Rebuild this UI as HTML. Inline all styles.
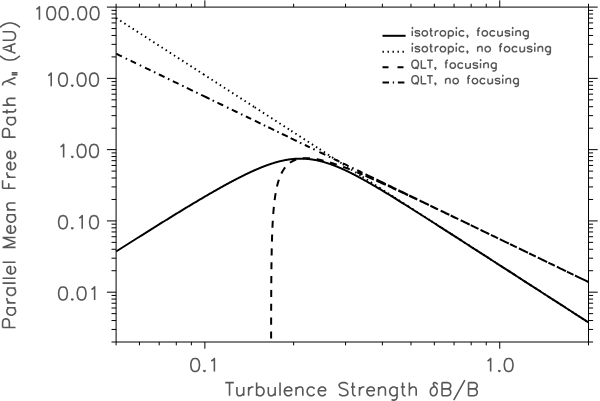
<!DOCTYPE html>
<html><head><meta charset="utf-8"><title>Parallel mean free path</title>
<style>html,body{margin:0;padding:0;background:#fff;width:600px;height:401px;overflow:hidden;font-family:"Liberation Sans",sans-serif;}svg{display:block;}</style>
</head><body>
<svg width="600" height="401" viewBox="0 0 600 401">
<rect width="600" height="401" fill="#fff"/>
<path d="M116.10 7.10L588.50 7.10M116.10 342.00L588.50 342.00M116.10 7.10L116.10 342.00M588.50 7.10L588.50 342.00M116.10 342.00L116.10 345.35M116.10 7.10L116.10 3.75M139.45 342.00L139.45 345.35M139.45 7.10L139.45 3.75M159.19 342.00L159.19 345.35M159.19 7.10L159.19 3.75M176.29 342.00L176.29 345.35M176.29 7.10L176.29 3.75M191.37 342.00L191.37 345.35M191.37 7.10L191.37 3.75M204.86 342.00L204.86 348.70M204.86 7.10L204.86 0.40M293.63 342.00L293.63 345.35M293.63 7.10L293.63 3.75M345.55 342.00L345.55 345.35M345.55 7.10L345.55 3.75M382.39 342.00L382.39 345.35M382.39 7.10L382.39 3.75M410.97 342.00L410.97 345.35M410.97 7.10L410.97 3.75M434.32 342.00L434.32 345.35M434.32 7.10L434.32 3.75M454.06 342.00L454.06 345.35M454.06 7.10L454.06 3.75M471.16 342.00L471.16 345.35M471.16 7.10L471.16 3.75M486.24 342.00L486.24 345.35M486.24 7.10L486.24 3.75M499.74 342.00L499.74 348.70M499.74 7.10L499.74 0.40M588.50 342.00L588.50 345.35M588.50 7.10L588.50 3.75M116.10 342.00L111.50 342.00M588.50 342.00L593.10 342.00M116.10 329.45L111.50 329.45M588.50 329.45L593.10 329.45M116.10 320.55L111.50 320.55M588.50 320.55L593.10 320.55M116.10 313.64L111.50 313.64M588.50 313.64L593.10 313.64M116.10 308.00L111.50 308.00M588.50 308.00L593.10 308.00M116.10 303.22L111.50 303.22M588.50 303.22L593.10 303.22M116.10 299.09L111.50 299.09M588.50 299.09L593.10 299.09M116.10 295.44L111.50 295.44M588.50 295.44L593.10 295.44M116.10 292.18L106.90 292.18M588.50 292.18L597.70 292.18M116.10 270.73L111.50 270.73M588.50 270.73L593.10 270.73M116.10 258.18L111.50 258.18M588.50 258.18L593.10 258.18M116.10 249.27L111.50 249.27M588.50 249.27L593.10 249.27M116.10 242.37L111.50 242.37M588.50 242.37L593.10 242.37M116.10 236.72L111.50 236.72M588.50 236.72L593.10 236.72M116.10 231.95L111.50 231.95M588.50 231.95L593.10 231.95M116.10 227.82L111.50 227.82M588.50 227.82L593.10 227.82M116.10 224.17L111.50 224.17M588.50 224.17L593.10 224.17M116.10 220.91L106.90 220.91M588.50 220.91L597.70 220.91M116.10 199.46L111.50 199.46M588.50 199.46L593.10 199.46M116.10 186.91L111.50 186.91M588.50 186.91L593.10 186.91M116.10 178.00L111.50 178.00M588.50 178.00L593.10 178.00M116.10 171.10L111.50 171.10M588.50 171.10L593.10 171.10M116.10 165.45L111.50 165.45M588.50 165.45L593.10 165.45M116.10 160.68L111.50 160.68M588.50 160.68L593.10 160.68M116.10 156.55L111.50 156.55M588.50 156.55L593.10 156.55M116.10 152.90L111.50 152.90M588.50 152.90L593.10 152.90M116.10 149.64L106.90 149.64M588.50 149.64L597.70 149.64M116.10 128.19L111.50 128.19M588.50 128.19L593.10 128.19M116.10 115.64L111.50 115.64M588.50 115.64L593.10 115.64M116.10 106.73L111.50 106.73M588.50 106.73L593.10 106.73M116.10 99.83L111.50 99.83M588.50 99.83L593.10 99.83M116.10 94.18L111.50 94.18M588.50 94.18L593.10 94.18M116.10 89.41L111.50 89.41M588.50 89.41L593.10 89.41M116.10 85.28L111.50 85.28M588.50 85.28L593.10 85.28M116.10 81.63L111.50 81.63M588.50 81.63L593.10 81.63M116.10 78.37L106.90 78.37M588.50 78.37L597.70 78.37M116.10 56.92L111.50 56.92M588.50 56.92L593.10 56.92M116.10 44.37L111.50 44.37M588.50 44.37L593.10 44.37M116.10 35.46L111.50 35.46M588.50 35.46L593.10 35.46M116.10 28.55L111.50 28.55M588.50 28.55L593.10 28.55M116.10 22.91L111.50 22.91M588.50 22.91L593.10 22.91M116.10 18.14L111.50 18.14M588.50 18.14L593.10 18.14M116.10 14.01L111.50 14.01M588.50 14.01L593.10 14.01M116.10 10.36L111.50 10.36M588.50 10.36L593.10 10.36M116.10 7.10L106.90 7.10M588.50 7.10L597.70 7.10" stroke="#000" stroke-width="1" fill="none"/>
<path d="M36.32 9.24 L37.56 8.62 L39.42 6.76 L39.42 19.78M50.58 6.76 L48.72 7.38 L47.48 9.24 L46.86 12.34 L46.86 14.20 L47.48 17.30 L48.72 19.16 L50.58 19.78 L51.82 19.78 L53.68 19.16 L54.92 17.30 L55.54 14.20 L55.54 12.34 L54.92 9.24 L53.68 7.38 L51.82 6.76 L50.58 6.76M62.98 6.76 L61.12 7.38 L59.88 9.24 L59.26 12.34 L59.26 14.20 L59.88 17.30 L61.12 19.16 L62.98 19.78 L64.22 19.78 L66.08 19.16 L67.32 17.30 L67.94 14.20 L67.94 12.34 L67.32 9.24 L66.08 7.38 L64.22 6.76 L62.98 6.76M72.90 18.54 L72.28 19.16 L72.90 19.78 L73.52 19.16 L72.90 18.54M81.58 6.76 L79.72 7.38 L78.48 9.24 L77.86 12.34 L77.86 14.20 L78.48 17.30 L79.72 19.16 L81.58 19.78 L82.82 19.78 L84.68 19.16 L85.92 17.30 L86.54 14.20 L86.54 12.34 L85.92 9.24 L84.68 7.38 L82.82 6.76 L81.58 6.76M93.98 6.76 L92.12 7.38 L90.88 9.24 L90.26 12.34 L90.26 14.20 L90.88 17.30 L92.12 19.16 L93.98 19.78 L95.22 19.78 L97.08 19.16 L98.32 17.30 L98.94 14.20 L98.94 12.34 L98.32 9.24 L97.08 7.38 L95.22 6.76 L93.98 6.76M48.12 75.61 L49.36 74.99 L51.22 73.13 L51.22 86.15M62.38 73.13 L60.52 73.75 L59.28 75.61 L58.66 78.71 L58.66 80.57 L59.28 83.67 L60.52 85.53 L62.38 86.15 L63.62 86.15 L65.48 85.53 L66.72 83.67 L67.34 80.57 L67.34 78.71 L66.72 75.61 L65.48 73.75 L63.62 73.13 L62.38 73.13M72.30 84.91 L71.68 85.53 L72.30 86.15 L72.92 85.53 L72.30 84.91M80.98 73.13 L79.12 73.75 L77.88 75.61 L77.26 78.71 L77.26 80.57 L77.88 83.67 L79.12 85.53 L80.98 86.15 L82.22 86.15 L84.08 85.53 L85.32 83.67 L85.94 80.57 L85.94 78.71 L85.32 75.61 L84.08 73.75 L82.22 73.13 L80.98 73.13M93.38 73.13 L91.52 73.75 L90.28 75.61 L89.66 78.71 L89.66 80.57 L90.28 83.67 L91.52 85.53 L93.38 86.15 L94.62 86.15 L96.48 85.53 L97.72 83.67 L98.34 80.57 L98.34 78.71 L97.72 75.61 L96.48 73.75 L94.62 73.13 L93.38 73.13M60.52 146.88 L61.76 146.26 L63.62 144.40 L63.62 157.42M72.30 156.18 L71.68 156.80 L72.30 157.42 L72.92 156.80 L72.30 156.18M80.98 144.40 L79.12 145.02 L77.88 146.88 L77.26 149.98 L77.26 151.84 L77.88 154.94 L79.12 156.80 L80.98 157.42 L82.22 157.42 L84.08 156.80 L85.32 154.94 L85.94 151.84 L85.94 149.98 L85.32 146.88 L84.08 145.02 L82.22 144.40 L80.98 144.40M93.38 144.40 L91.52 145.02 L90.28 146.88 L89.66 149.98 L89.66 151.84 L90.28 154.94 L91.52 156.80 L93.38 157.42 L94.62 157.42 L96.48 156.80 L97.72 154.94 L98.34 151.84 L98.34 149.98 L97.72 146.88 L96.48 145.02 L94.62 144.40 L93.38 144.40M62.38 215.67 L60.52 216.29 L59.28 218.15 L58.66 221.25 L58.66 223.11 L59.28 226.21 L60.52 228.07 L62.38 228.69 L63.62 228.69 L65.48 228.07 L66.72 226.21 L67.34 223.11 L67.34 221.25 L66.72 218.15 L65.48 216.29 L63.62 215.67 L62.38 215.67M72.30 227.45 L71.68 228.07 L72.30 228.69 L72.92 228.07 L72.30 227.45M79.12 218.15 L80.36 217.53 L82.22 215.67 L82.22 228.69M93.38 215.67 L91.52 216.29 L90.28 218.15 L89.66 221.25 L89.66 223.11 L90.28 226.21 L91.52 228.07 L93.38 228.69 L94.62 228.69 L96.48 228.07 L97.72 226.21 L98.34 223.11 L98.34 221.25 L97.72 218.15 L96.48 216.29 L94.62 215.67 L93.38 215.67M62.38 286.94 L60.52 287.56 L59.28 289.42 L58.66 292.52 L58.66 294.38 L59.28 297.48 L60.52 299.34 L62.38 299.96 L63.62 299.96 L65.48 299.34 L66.72 297.48 L67.34 294.38 L67.34 292.52 L66.72 289.42 L65.48 287.56 L63.62 286.94 L62.38 286.94M72.30 298.72 L71.68 299.34 L72.30 299.96 L72.92 299.34 L72.30 298.72M80.98 286.94 L79.12 287.56 L77.88 289.42 L77.26 292.52 L77.26 294.38 L77.88 297.48 L79.12 299.34 L80.98 299.96 L82.22 299.96 L84.08 299.34 L85.32 297.48 L85.94 294.38 L85.94 292.52 L85.32 289.42 L84.08 287.56 L82.22 286.94 L80.98 286.94M91.52 289.42 L92.76 288.80 L94.62 286.94 L94.62 299.96M194.54 358.46 L192.68 359.08 L191.44 360.94 L190.82 364.04 L190.82 365.90 L191.44 369.00 L192.68 370.86 L194.54 371.48 L195.78 371.48 L197.64 370.86 L198.88 369.00 L199.50 365.90 L199.50 364.04 L198.88 360.94 L197.64 359.08 L195.78 358.46 L194.54 358.46M204.46 370.24 L203.84 370.86 L204.46 371.48 L205.08 370.86 L204.46 370.24M211.28 360.94 L212.52 360.32 L214.38 358.46 L214.38 371.48M487.56 360.94 L488.80 360.32 L490.66 358.46 L490.66 371.48M499.34 370.24 L498.72 370.86 L499.34 371.48 L499.96 370.86 L499.34 370.24M508.02 358.46 L506.16 359.08 L504.92 360.94 L504.30 364.04 L504.30 365.90 L504.92 369.00 L506.16 370.86 L508.02 371.48 L509.26 371.48 L511.12 370.86 L512.36 369.00 L512.98 365.90 L512.98 364.04 L512.36 360.94 L511.12 359.08 L509.26 358.46 L508.02 358.46M229.53 382.59 L229.53 395.73M225.22 382.59 L233.84 382.59M236.92 386.97 L236.92 393.23 L237.54 395.11 L238.77 395.73 L240.62 395.73 L241.85 395.11 L243.70 393.23M243.70 386.97 L243.70 395.73M248.62 386.97 L248.62 395.73M248.62 390.73 L249.24 388.85 L250.47 387.60 L251.70 386.97 L253.55 386.97M256.63 382.59 L256.63 395.73M256.63 388.85 L257.86 387.60 L259.10 386.97 L260.94 386.97 L262.18 387.60 L263.41 388.85 L264.02 390.73 L264.02 391.98 L263.41 393.86 L262.18 395.11 L260.94 395.73 L259.10 395.73 L257.86 395.11 L256.63 393.86M268.34 386.97 L268.34 393.23 L268.95 395.11 L270.18 395.73 L272.03 395.73 L273.26 395.11 L275.11 393.23M275.11 386.97 L275.11 395.73M280.04 382.59 L280.04 395.73M284.35 390.73 L291.74 390.73 L291.74 389.47 L291.13 388.22 L290.51 387.60 L289.28 386.97 L287.43 386.97 L286.20 387.60 L284.97 388.85 L284.35 390.73 L284.35 391.98 L284.97 393.86 L286.20 395.11 L287.43 395.73 L289.28 395.73 L290.51 395.11 L291.74 393.86M296.06 386.97 L296.06 395.73M296.06 389.47 L297.90 387.60 L299.14 386.97 L300.98 386.97 L302.22 387.60 L302.83 389.47 L302.83 395.73M314.54 388.85 L313.30 387.60 L312.07 386.97 L310.22 386.97 L308.99 387.60 L307.76 388.85 L307.14 390.73 L307.14 391.98 L307.76 393.86 L308.99 395.11 L310.22 395.73 L312.07 395.73 L313.30 395.11 L314.54 393.86M318.23 390.73 L325.62 390.73 L325.62 389.47 L325.01 388.22 L324.39 387.60 L323.16 386.97 L321.31 386.97 L320.08 387.60 L318.85 388.85 L318.23 390.73 L318.23 391.98 L318.85 393.86 L320.08 395.11 L321.31 395.73 L323.16 395.73 L324.39 395.11 L325.62 393.86M347.80 384.47 L346.57 383.21 L344.72 382.59 L342.26 382.59 L340.41 383.21 L339.18 384.47 L339.18 385.72 L339.79 386.97 L340.41 387.60 L341.64 388.22 L345.34 389.47 L346.57 390.10 L347.18 390.73 L347.80 391.98 L347.80 393.86 L346.57 395.11 L344.72 395.73 L342.26 395.73 L340.41 395.11 L339.18 393.86M352.73 382.59 L352.73 393.23 L353.34 395.11 L354.58 395.73 L355.81 395.73M350.88 386.97 L355.19 386.97M359.50 386.97 L359.50 395.73M359.50 390.73 L360.12 388.85 L361.35 387.60 L362.58 386.97 L364.43 386.97M366.90 390.73 L374.29 390.73 L374.29 389.47 L373.67 388.22 L373.06 387.60 L371.82 386.97 L369.98 386.97 L368.74 387.60 L367.51 388.85 L366.90 390.73 L366.90 391.98 L367.51 393.86 L368.74 395.11 L369.98 395.73 L371.82 395.73 L373.06 395.11 L374.29 393.86M378.60 386.97 L378.60 395.73M378.60 389.47 L380.45 387.60 L381.68 386.97 L383.53 386.97 L384.76 387.60 L385.38 389.47 L385.38 395.73M397.08 386.97 L397.08 396.99 L396.46 398.86 L395.85 399.49 L394.62 400.12 L392.77 400.12 L391.54 399.49M397.08 388.85 L395.85 387.60 L394.62 386.97 L392.77 386.97 L391.54 387.60 L390.30 388.85 L389.69 390.73 L389.69 391.98 L390.30 393.86 L391.54 395.11 L392.77 395.73 L394.62 395.73 L395.85 395.11 L397.08 393.86M402.62 382.59 L402.62 393.23 L403.24 395.11 L404.47 395.73 L405.70 395.73M400.78 386.97 L405.09 386.97M409.40 382.59 L409.40 395.73M409.40 389.47 L411.25 387.60 L412.48 386.97 L414.33 386.97 L415.56 387.60 L416.18 389.47 L416.18 395.73M435.27 386.97 L433.42 386.97 L432.19 387.60 L430.96 388.85 L430.34 390.73 L430.34 392.60 L430.96 394.48 L431.58 395.11 L432.81 395.73 L434.04 395.73 L435.27 395.11 L436.50 393.86 L437.12 391.98 L437.12 390.10 L436.50 388.22 L435.27 386.97 L434.04 385.72 L433.42 384.47 L433.42 383.21 L434.04 382.59 L435.27 382.59 L436.50 383.21 L437.74 384.47M442.05 382.59 L442.05 395.73M442.05 382.59 L447.59 382.59 L449.44 383.21 L450.06 383.84 L450.67 385.09 L450.67 386.34 L450.06 387.60 L449.44 388.22 L447.59 388.85M442.05 388.85 L447.59 388.85 L449.44 389.47 L450.06 390.10 L450.67 391.35 L450.67 393.23 L450.06 394.48 L449.44 395.11 L447.59 395.73 L442.05 395.73M464.84 380.08 L453.75 400.12M468.54 382.59 L468.54 395.73M468.54 382.59 L474.08 382.59 L475.93 383.21 L476.54 383.84 L477.16 385.09 L477.16 386.34 L476.54 387.60 L475.93 388.22 L474.08 388.85M468.54 388.85 L474.08 388.85 L475.93 389.47 L476.54 390.10 L477.16 391.35 L477.16 393.23 L476.54 394.48 L475.93 395.11 L474.08 395.73 L468.54 395.73M2.59 327.50 L15.52 327.50M2.59 327.50 L2.59 321.95 L3.20 320.10 L3.82 319.49 L5.05 318.87 L6.90 318.87 L8.13 319.49 L8.75 320.10 L9.36 321.95 L9.36 327.50M6.90 307.78 L15.52 307.78M8.75 307.78 L7.52 309.02 L6.90 310.25 L6.90 312.10 L7.52 313.33 L8.75 314.56 L10.60 315.18 L11.83 315.18 L13.68 314.56 L14.91 313.33 L15.52 312.10 L15.52 310.25 L14.91 309.02 L13.68 307.78M6.90 302.86 L15.52 302.86M10.60 302.86 L8.75 302.24 L7.52 301.01 L6.90 299.78 L6.90 297.93M6.90 288.07 L15.52 288.07M8.75 288.07 L7.52 289.30 L6.90 290.54 L6.90 292.38 L7.52 293.62 L8.75 294.85 L10.60 295.46 L11.83 295.46 L13.68 294.85 L14.91 293.62 L15.52 292.38 L15.52 290.54 L14.91 289.30 L13.68 288.07M2.59 283.14 L15.52 283.14M2.59 278.22 L15.52 278.22M10.60 273.90 L10.60 266.51 L9.36 266.51 L8.13 267.13 L7.52 267.74 L6.90 268.98 L6.90 270.82 L7.52 272.06 L8.75 273.29 L10.60 273.90 L11.83 273.90 L13.68 273.29 L14.91 272.06 L15.52 270.82 L15.52 268.98 L14.91 267.74 L13.68 266.51M2.59 262.20 L15.52 262.20M2.59 247.42 L15.52 247.42M2.59 247.42 L15.52 242.49M2.59 237.56 L15.52 242.49M2.59 237.56 L15.52 237.56M10.60 233.25 L10.60 225.86 L9.36 225.86 L8.13 226.47 L7.52 227.09 L6.90 228.32 L6.90 230.17 L7.52 231.40 L8.75 232.63 L10.60 233.25 L11.83 233.25 L13.68 232.63 L14.91 231.40 L15.52 230.17 L15.52 228.32 L14.91 227.09 L13.68 225.86M6.90 214.77 L15.52 214.77M8.75 214.77 L7.52 216.00 L6.90 217.23 L6.90 219.08 L7.52 220.31 L8.75 221.54 L10.60 222.16 L11.83 222.16 L13.68 221.54 L14.91 220.31 L15.52 219.08 L15.52 217.23 L14.91 216.00 L13.68 214.77M6.90 209.84 L15.52 209.84M9.36 209.84 L7.52 207.99 L6.90 206.76 L6.90 204.91 L7.52 203.68 L9.36 203.06 L15.52 203.06M2.59 188.28 L15.52 188.28M2.59 188.28 L2.59 180.27M8.75 188.28 L8.75 183.35M6.90 177.19 L15.52 177.19M10.60 177.19 L8.75 176.58 L7.52 175.34 L6.90 174.11 L6.90 172.26M10.60 169.80 L10.60 162.41 L9.36 162.41 L8.13 163.02 L7.52 163.64 L6.90 164.87 L6.90 166.72 L7.52 167.95 L8.75 169.18 L10.60 169.80 L11.83 169.80 L13.68 169.18 L14.91 167.95 L15.52 166.72 L15.52 164.87 L14.91 163.64 L13.68 162.41M10.60 158.71 L10.60 151.32 L9.36 151.32 L8.13 151.94 L7.52 152.55 L6.90 153.78 L6.90 155.63 L7.52 156.86 L8.75 158.10 L10.60 158.71 L11.83 158.71 L13.68 158.10 L14.91 156.86 L15.52 155.63 L15.52 153.78 L14.91 152.55 L13.68 151.32M2.59 137.15 L15.52 137.15M2.59 137.15 L2.59 131.61 L3.20 129.76 L3.82 129.14 L5.05 128.53 L6.90 128.53 L8.13 129.14 L8.75 129.76 L9.36 131.61 L9.36 137.15M6.90 117.44 L15.52 117.44M8.75 117.44 L7.52 118.67 L6.90 119.90 L6.90 121.75 L7.52 122.98 L8.75 124.22 L10.60 124.83 L11.83 124.83 L13.68 124.22 L14.91 122.98 L15.52 121.75 L15.52 119.90 L14.91 118.67 L13.68 117.44M2.59 111.90 L13.06 111.90 L14.91 111.28 L15.52 110.05 L15.52 108.82M6.90 113.74 L6.90 109.43M2.59 105.12 L15.52 105.12M9.36 105.12 L7.52 103.27 L6.90 102.04 L6.90 100.19 L7.52 98.96 L9.36 98.34 L15.52 98.34M2.59 85.41 L2.59 84.18 L3.20 82.94 L3.82 82.33 L15.52 77.40M6.90 81.10 L15.52 84.79M0.12 55.72 L1.36 56.95 L3.20 58.18 L5.67 59.41 L8.75 60.03 L11.21 60.03 L14.29 59.41 L16.76 58.18 L18.60 56.95 L19.84 55.72M2.59 48.32 L15.52 53.25M2.59 48.32 L15.52 43.40M11.21 51.40 L11.21 45.24M2.59 40.32 L11.83 40.32 L13.68 39.70 L14.91 38.47 L15.52 36.62 L15.52 35.39 L14.91 33.54 L13.68 32.31 L11.83 31.69 L2.59 31.69M0.12 27.38 L1.36 26.15 L3.20 24.92 L5.67 23.68 L8.75 23.07 L11.21 23.07 L14.29 23.68 L16.76 24.92 L18.60 26.15 L19.84 27.38M11.7 72.8L17.5 72.8M11.7 74.6L17.5 74.6" stroke="#575757" stroke-width="1.6" fill="none" stroke-linecap="butt" stroke-linejoin="round"/>
<path d="M411.88 27.98 L412.29 28.37 L412.70 27.98 L412.29 27.60 L411.88 27.98M412.29 30.68 L412.29 36.06M419.69 31.83 L419.28 31.06 L418.05 30.68 L416.81 30.68 L415.58 31.06 L415.17 31.83 L415.58 32.60 L416.40 32.98 L418.46 33.37 L419.28 33.76 L419.69 34.52 L419.69 34.91 L419.28 35.68 L418.05 36.06 L416.81 36.06 L415.58 35.68 L415.17 34.91M424.21 30.68 L423.39 31.06 L422.57 31.83 L422.16 32.98 L422.16 33.76 L422.57 34.91 L423.39 35.68 L424.21 36.06 L425.45 36.06 L426.27 35.68 L427.09 34.91 L427.50 33.76 L427.50 32.98 L427.09 31.83 L426.27 31.06 L425.45 30.68 L424.21 30.68M430.79 27.98 L430.79 34.52 L431.20 35.68 L432.02 36.06 L432.84 36.06M429.56 30.68 L432.43 30.68M435.31 30.68 L435.31 36.06M435.31 32.98 L435.72 31.83 L436.54 31.06 L437.36 30.68 L438.60 30.68M442.30 30.68 L441.47 31.06 L440.65 31.83 L440.24 32.98 L440.24 33.76 L440.65 34.91 L441.47 35.68 L442.30 36.06 L443.53 36.06 L444.35 35.68 L445.17 34.91 L445.58 33.76 L445.58 32.98 L445.17 31.83 L444.35 31.06 L443.53 30.68 L442.30 30.68M448.46 30.68 L448.46 38.76M448.46 31.83 L449.28 31.06 L450.11 30.68 L451.34 30.68 L452.16 31.06 L452.98 31.83 L453.39 32.98 L453.39 33.76 L452.98 34.91 L452.16 35.68 L451.34 36.06 L450.11 36.06 L449.28 35.68 L448.46 34.91M455.86 27.98 L456.27 28.37 L456.68 27.98 L456.27 27.60 L455.86 27.98M456.27 30.68 L456.27 36.06M464.08 31.83 L463.26 31.06 L462.44 30.68 L461.20 30.68 L460.38 31.06 L459.56 31.83 L459.15 32.98 L459.15 33.76 L459.56 34.91 L460.38 35.68 L461.20 36.06 L462.44 36.06 L463.26 35.68 L464.08 34.91M467.78 35.68 L467.37 36.06 L466.96 35.68 L467.37 35.30 L467.78 35.68 L467.78 36.45 L467.37 37.22 L466.96 37.61M480.11 27.98 L479.29 27.98 L478.46 28.37 L478.05 29.52 L478.05 36.06M476.82 30.68 L479.70 30.68M484.22 30.68 L483.40 31.06 L482.57 31.83 L482.16 32.98 L482.16 33.76 L482.57 34.91 L483.40 35.68 L484.22 36.06 L485.45 36.06 L486.27 35.68 L487.10 34.91 L487.51 33.76 L487.51 32.98 L487.10 31.83 L486.27 31.06 L485.45 30.68 L484.22 30.68M494.90 31.83 L494.08 31.06 L493.26 30.68 L492.03 30.68 L491.21 31.06 L490.38 31.83 L489.97 32.98 L489.97 33.76 L490.38 34.91 L491.21 35.68 L492.03 36.06 L493.26 36.06 L494.08 35.68 L494.90 34.91M497.78 30.68 L497.78 34.52 L498.19 35.68 L499.01 36.06 L500.25 36.06 L501.07 35.68 L502.30 34.52M502.30 30.68 L502.30 36.06M509.70 31.83 L509.29 31.06 L508.06 30.68 L506.82 30.68 L505.59 31.06 L505.18 31.83 L505.59 32.60 L506.41 32.98 L508.47 33.37 L509.29 33.76 L509.70 34.52 L509.70 34.91 L509.29 35.68 L508.06 36.06 L506.82 36.06 L505.59 35.68 L505.18 34.91M512.17 27.98 L512.58 28.37 L512.99 27.98 L512.58 27.60 L512.17 27.98M512.58 30.68 L512.58 36.06M515.87 30.68 L515.87 36.06M515.87 32.22 L517.10 31.06 L517.92 30.68 L519.15 30.68 L519.98 31.06 L520.39 32.22 L520.39 36.06M528.20 30.68 L528.20 36.84 L527.78 37.99 L527.37 38.38 L526.55 38.76 L525.32 38.76 L524.50 38.38M528.20 31.83 L527.37 31.06 L526.55 30.68 L525.32 30.68 L524.50 31.06 L523.67 31.83 L523.26 32.98 L523.26 33.76 L523.67 34.91 L524.50 35.68 L525.32 36.06 L526.55 36.06 L527.37 35.68 L528.20 34.91M411.88 43.78 L412.29 44.16 L412.70 43.78 L412.29 43.39 L411.88 43.78M412.29 46.48 L412.29 51.86M419.69 47.63 L419.28 46.86 L418.05 46.48 L416.81 46.48 L415.58 46.86 L415.17 47.63 L415.58 48.40 L416.40 48.78 L418.46 49.17 L419.28 49.55 L419.69 50.32 L419.69 50.71 L419.28 51.48 L418.05 51.86 L416.81 51.86 L415.58 51.48 L415.17 50.71M424.21 46.48 L423.39 46.86 L422.57 47.63 L422.16 48.78 L422.16 49.55 L422.57 50.71 L423.39 51.48 L424.21 51.86 L425.45 51.86 L426.27 51.48 L427.09 50.71 L427.50 49.55 L427.50 48.78 L427.09 47.63 L426.27 46.86 L425.45 46.48 L424.21 46.48M430.79 43.78 L430.79 50.32 L431.20 51.48 L432.02 51.86 L432.84 51.86M429.56 46.48 L432.43 46.48M435.31 46.48 L435.31 51.86M435.31 48.78 L435.72 47.63 L436.54 46.86 L437.36 46.48 L438.60 46.48M442.30 46.48 L441.47 46.86 L440.65 47.63 L440.24 48.78 L440.24 49.55 L440.65 50.71 L441.47 51.48 L442.30 51.86 L443.53 51.86 L444.35 51.48 L445.17 50.71 L445.58 49.55 L445.58 48.78 L445.17 47.63 L444.35 46.86 L443.53 46.48 L442.30 46.48M448.46 46.48 L448.46 54.56M448.46 47.63 L449.28 46.86 L450.11 46.48 L451.34 46.48 L452.16 46.86 L452.98 47.63 L453.39 48.78 L453.39 49.55 L452.98 50.71 L452.16 51.48 L451.34 51.86 L450.11 51.86 L449.28 51.48 L448.46 50.71M455.86 43.78 L456.27 44.16 L456.68 43.78 L456.27 43.39 L455.86 43.78M456.27 46.48 L456.27 51.86M464.08 47.63 L463.26 46.86 L462.44 46.48 L461.20 46.48 L460.38 46.86 L459.56 47.63 L459.15 48.78 L459.15 49.55 L459.56 50.71 L460.38 51.48 L461.20 51.86 L462.44 51.86 L463.26 51.48 L464.08 50.71M467.78 51.48 L467.37 51.86 L466.96 51.48 L467.37 51.09 L467.78 51.48 L467.78 52.25 L467.37 53.02 L466.96 53.41M477.64 46.48 L477.64 51.86M477.64 48.02 L478.88 46.86 L479.70 46.48 L480.93 46.48 L481.75 46.86 L482.16 48.02 L482.16 51.86M487.10 46.48 L486.27 46.86 L485.45 47.63 L485.04 48.78 L485.04 49.55 L485.45 50.71 L486.27 51.48 L487.10 51.86 L488.33 51.86 L489.15 51.48 L489.97 50.71 L490.38 49.55 L490.38 48.78 L489.97 47.63 L489.15 46.86 L488.33 46.48 L487.10 46.48M502.30 43.78 L501.48 43.78 L500.66 44.16 L500.25 45.32 L500.25 51.86M499.01 46.48 L501.89 46.48M506.41 46.48 L505.59 46.86 L504.77 47.63 L504.36 48.78 L504.36 49.55 L504.77 50.71 L505.59 51.48 L506.41 51.86 L507.65 51.86 L508.47 51.48 L509.29 50.71 L509.70 49.55 L509.70 48.78 L509.29 47.63 L508.47 46.86 L507.65 46.48 L506.41 46.48M517.10 47.63 L516.28 46.86 L515.45 46.48 L514.22 46.48 L513.40 46.86 L512.58 47.63 L512.17 48.78 L512.17 49.55 L512.58 50.71 L513.40 51.48 L514.22 51.86 L515.45 51.86 L516.28 51.48 L517.10 50.71M519.98 46.48 L519.98 50.32 L520.39 51.48 L521.21 51.86 L522.44 51.86 L523.26 51.48 L524.50 50.32M524.50 46.48 L524.50 51.86M531.89 47.63 L531.48 46.86 L530.25 46.48 L529.02 46.48 L527.78 46.86 L527.37 47.63 L527.78 48.40 L528.61 48.78 L530.66 49.17 L531.48 49.55 L531.89 50.32 L531.89 50.71 L531.48 51.48 L530.25 51.86 L529.02 51.86 L527.78 51.48 L527.37 50.71M534.36 43.78 L534.77 44.16 L535.18 43.78 L534.77 43.39 L534.36 43.78M534.77 46.48 L534.77 51.86M538.06 46.48 L538.06 51.86M538.06 48.02 L539.29 46.86 L540.12 46.48 L541.35 46.48 L542.17 46.86 L542.58 48.02 L542.58 51.86M550.39 46.48 L550.39 52.63 L549.98 53.79 L549.57 54.17 L548.75 54.56 L547.51 54.56 L546.69 54.17M550.39 47.63 L549.57 46.86 L548.75 46.48 L547.51 46.48 L546.69 46.86 L545.87 47.63 L545.46 48.78 L545.46 49.55 L545.87 50.71 L546.69 51.48 L547.51 51.86 L548.75 51.86 L549.57 51.48 L550.39 50.71M414.35 60.18 L413.53 60.56 L412.70 61.33 L412.29 62.10 L411.88 63.26 L411.88 65.19 L412.29 66.34 L412.70 67.11 L413.53 67.88 L414.35 68.27 L415.99 68.27 L416.81 67.88 L417.64 67.11 L418.05 66.34 L418.46 65.19 L418.46 63.26 L418.05 62.10 L417.64 61.33 L416.81 60.56 L415.99 60.18 L414.35 60.18M415.58 66.72 L418.05 69.03M421.34 60.18 L421.34 68.27M421.34 68.27 L426.27 68.27M429.97 60.18 L429.97 68.27M427.09 60.18 L432.84 60.18M435.72 67.88 L435.31 68.27 L434.90 67.88 L435.31 67.50 L435.72 67.88 L435.72 68.65 L435.31 69.42 L434.90 69.80M448.05 60.18 L447.23 60.18 L446.41 60.56 L446.00 61.72 L446.00 68.27M444.76 62.88 L447.64 62.88M452.16 62.88 L451.34 63.26 L450.52 64.03 L450.11 65.19 L450.11 65.95 L450.52 67.11 L451.34 67.88 L452.16 68.27 L453.39 68.27 L454.22 67.88 L455.04 67.11 L455.45 65.95 L455.45 65.19 L455.04 64.03 L454.22 63.26 L453.39 62.88 L452.16 62.88M462.85 64.03 L462.02 63.26 L461.20 62.88 L459.97 62.88 L459.15 63.26 L458.33 64.03 L457.91 65.19 L457.91 65.95 L458.33 67.11 L459.15 67.88 L459.97 68.27 L461.20 68.27 L462.02 67.88 L462.85 67.11M465.72 62.88 L465.72 66.72 L466.13 67.88 L466.96 68.27 L468.19 68.27 L469.01 67.88 L470.25 66.72M470.25 62.88 L470.25 68.27M477.64 64.03 L477.23 63.26 L476.00 62.88 L474.77 62.88 L473.53 63.26 L473.12 64.03 L473.53 64.80 L474.35 65.19 L476.41 65.57 L477.23 65.95 L477.64 66.72 L477.64 67.11 L477.23 67.88 L476.00 68.27 L474.77 68.27 L473.53 67.88 L473.12 67.11M480.11 60.18 L480.52 60.56 L480.93 60.18 L480.52 59.79 L480.11 60.18M480.52 62.88 L480.52 68.27M483.81 62.88 L483.81 68.27M483.81 64.41 L485.04 63.26 L485.86 62.88 L487.10 62.88 L487.92 63.26 L488.33 64.41 L488.33 68.27M496.14 62.88 L496.14 69.03 L495.73 70.19 L495.32 70.58 L494.49 70.96 L493.26 70.96 L492.44 70.58M496.14 64.03 L495.32 63.26 L494.49 62.88 L493.26 62.88 L492.44 63.26 L491.62 64.03 L491.21 65.19 L491.21 65.95 L491.62 67.11 L492.44 67.88 L493.26 68.27 L494.49 68.27 L495.32 67.88 L496.14 67.11M414.35 75.68 L413.53 76.06 L412.70 76.83 L412.29 77.60 L411.88 78.76 L411.88 80.69 L412.29 81.84 L412.70 82.61 L413.53 83.38 L414.35 83.77 L415.99 83.77 L416.81 83.38 L417.64 82.61 L418.05 81.84 L418.46 80.69 L418.46 78.76 L418.05 77.60 L417.64 76.83 L416.81 76.06 L415.99 75.68 L414.35 75.68M415.58 82.22 L418.05 84.53M421.34 75.68 L421.34 83.77M421.34 83.77 L426.27 83.77M429.97 75.68 L429.97 83.77M427.09 75.68 L432.84 75.68M435.72 83.38 L435.31 83.77 L434.90 83.38 L435.31 83.00 L435.72 83.38 L435.72 84.15 L435.31 84.92 L434.90 85.30M445.58 78.38 L445.58 83.77M445.58 79.91 L446.82 78.76 L447.64 78.38 L448.87 78.38 L449.69 78.76 L450.11 79.91 L450.11 83.77M455.04 78.38 L454.22 78.76 L453.39 79.53 L452.98 80.69 L452.98 81.45 L453.39 82.61 L454.22 83.38 L455.04 83.77 L456.27 83.77 L457.09 83.38 L457.91 82.61 L458.33 81.45 L458.33 80.69 L457.91 79.53 L457.09 78.76 L456.27 78.38 L455.04 78.38M470.25 75.68 L469.42 75.68 L468.60 76.06 L468.19 77.22 L468.19 83.77M466.96 78.38 L469.83 78.38M474.35 78.38 L473.53 78.76 L472.71 79.53 L472.30 80.69 L472.30 81.45 L472.71 82.61 L473.53 83.38 L474.35 83.77 L475.59 83.77 L476.41 83.38 L477.23 82.61 L477.64 81.45 L477.64 80.69 L477.23 79.53 L476.41 78.76 L475.59 78.38 L474.35 78.38M485.04 79.53 L484.22 78.76 L483.40 78.38 L482.16 78.38 L481.34 78.76 L480.52 79.53 L480.11 80.69 L480.11 81.45 L480.52 82.61 L481.34 83.38 L482.16 83.77 L483.40 83.77 L484.22 83.38 L485.04 82.61M487.92 78.38 L487.92 82.22 L488.33 83.38 L489.15 83.77 L490.38 83.77 L491.21 83.38 L492.44 82.22M492.44 78.38 L492.44 83.77M499.84 79.53 L499.43 78.76 L498.19 78.38 L496.96 78.38 L495.73 78.76 L495.32 79.53 L495.73 80.30 L496.55 80.69 L498.60 81.07 L499.43 81.45 L499.84 82.22 L499.84 82.61 L499.43 83.38 L498.19 83.77 L496.96 83.77 L495.73 83.38 L495.32 82.61M502.30 75.68 L502.71 76.06 L503.12 75.68 L502.71 75.30 L502.30 75.68M502.71 78.38 L502.71 83.77M506.00 78.38 L506.00 83.77M506.00 79.91 L507.23 78.76 L508.06 78.38 L509.29 78.38 L510.11 78.76 L510.52 79.91 L510.52 83.77M518.33 78.38 L518.33 84.53 L517.92 85.69 L517.51 86.08 L516.69 86.46 L515.45 86.46 L514.63 86.08M518.33 79.53 L517.51 78.76 L516.69 78.38 L515.45 78.38 L514.63 78.76 L513.81 79.53 L513.40 80.69 L513.40 81.45 L513.81 82.61 L514.63 83.38 L515.45 83.77 L516.69 83.77 L517.51 83.38 L518.33 82.61" stroke="#575757" stroke-width="1.45" fill="none" stroke-linecap="butt" stroke-linejoin="round"/>
<path d="M116.10 17.96L117.36 18.78M120.23 20.63L121.49 21.44M124.36 23.29L125.62 24.10M128.49 25.95L129.75 26.76M132.62 28.61L133.88 29.42M136.75 31.27L138.01 32.09M140.88 33.94L142.14 34.75M145.01 36.60L146.27 37.41M149.14 39.26L150.40 40.07M153.27 41.92L154.53 42.73M157.40 44.58L158.66 45.40M161.53 47.25L162.79 48.06M165.66 49.91L166.92 50.72M169.79 52.57L171.05 53.38M173.92 55.23L175.18 56.04M178.05 57.89L179.31 58.71M182.18 60.55L183.44 61.37M186.31 63.22L187.57 64.03M190.44 65.88L191.70 66.69M194.57 68.54L195.83 69.35M198.70 71.20L199.96 72.02M202.83 73.86L203.25 74.14M203.25 74.14L204.51 74.95M207.38 76.80L208.64 77.61M211.51 79.46L212.77 80.27M215.64 82.12L216.90 82.94M219.77 84.79L221.03 85.60M223.90 87.45L225.16 88.26M228.03 90.11L229.29 90.92M232.16 92.77L233.42 93.58M236.29 95.43L237.55 96.25M240.42 98.10L241.68 98.91M244.55 100.76L245.81 101.57M248.68 103.42L249.94 104.23M252.81 106.08L254.07 106.89M254.64 107.26L255.90 108.07M258.77 109.92L260.03 110.73M262.90 112.58L264.16 113.39M267.03 115.24L268.29 116.05M271.16 117.90L272.42 118.72M275.29 120.57L276.55 121.38M279.42 123.23L280.68 124.04M283.55 125.89L284.81 126.70M287.68 128.55L288.94 129.36M291.21 130.83L292.47 131.64M295.34 133.49L296.60 134.30M299.47 136.15L300.73 136.96M303.60 138.81L304.86 139.62M307.73 141.47L308.99 142.29M311.86 144.14L313.12 144.95M315.99 146.80L317.25 147.61M319.62 149.14L320.88 149.95M323.75 151.80L325.01 152.61M327.88 154.46L329.14 155.28M332.01 157.13L333.27 157.94M336.14 159.79L337.40 160.60M340.27 162.45L341.53 163.26M342.86 164.12L344.12 164.93M346.99 166.78L348.25 167.59M351.12 169.44L352.38 170.25M355.25 172.10L356.51 172.92M359.38 174.77L360.64 175.58M362.52 176.79L363.78 177.60M366.65 179.45L367.91 180.27M370.78 182.12L372.04 182.93M374.91 184.78L376.17 185.59M379.04 187.44L379.56 187.78M379.56 187.78L380.82 188.59M383.69 190.44L384.95 191.25M387.82 193.10L389.08 193.91M391.95 195.76L393.21 196.57M394.60 197.47L395.86 198.28M398.73 200.13L399.99 200.94M402.86 202.79L404.12 203.60M406.99 205.45L408.06 206.14M408.06 206.14L409.32 206.95M412.19 208.80L413.45 209.62M416.32 211.47L417.58 212.28M420.23 213.99L421.49 214.80M424.36 216.65L425.62 217.46M428.49 219.31L429.75 220.13M431.35 221.15L432.61 221.97M435.48 223.82L436.74 224.63M439.61 226.48L440.87 227.29M441.58 227.75L442.84 228.56M445.71 230.41L446.97 231.22M449.84 233.07L451.05 233.85M451.05 233.85L452.31 234.67M455.18 236.52L456.44 237.33M459.31 239.18L459.87 239.54M459.87 239.54L461.13 240.35M464.00 242.20L465.26 243.01M468.12 244.86L469.38 245.67M472.25 247.52L473.51 248.33M475.87 249.85L477.13 250.66M480.00 252.51L481.26 253.33M483.18 254.56L484.44 255.38M487.31 257.23L488.57 258.04M490.10 259.02L491.36 259.83M494.23 261.68L495.49 262.49M496.66 263.25L497.92 264.06M500.79 265.91L502.05 266.72M502.90 267.27L504.16 268.08M507.03 269.93L508.29 270.74M508.85 271.11L510.11 271.92M512.98 273.77L514.24 274.58M514.53 274.77L515.79 275.58M518.66 277.43L519.92 278.24M519.98 278.28L521.24 279.09M524.11 280.94L525.20 281.65M525.20 281.65L526.46 282.46M529.33 284.31L530.22 284.88M530.22 284.88L531.48 285.69M534.35 287.54L535.05 287.99M535.05 287.99L536.31 288.80M539.18 290.65L539.70 290.99M539.70 290.99L540.96 291.80M543.83 293.65L544.19 293.88M544.19 293.88L545.45 294.70M548.32 296.55L548.53 296.68M548.53 296.68L549.79 297.49M552.66 299.34L552.72 299.38M552.72 299.38L553.98 300.20M556.78 302.00L558.05 302.82M560.72 304.54L561.98 305.35M564.54 307.00L565.80 307.82M568.25 309.39L569.51 310.21M571.86 311.72L573.12 312.53M575.36 313.98L576.62 314.79M578.78 316.18L580.04 316.99M582.10 318.32L583.36 319.13M585.34 320.41L586.60 321.22" stroke="#000" stroke-width="1.9" fill="none"/>
<path d="M116.25 53.76 L118.12 54.66 L119.98 55.56 L121.85 56.47M125.68 58.32 L126.16 58.55 L126.64 58.78 L127.12 59.01M130.65 60.72 L132.42 61.57 L134.18 62.43 L135.95 63.28M139.78 65.13 L140.26 65.36 L140.74 65.60 L141.22 65.83M145.05 67.68 L146.88 68.57 L148.72 69.45 L150.55 70.34M153.98 72.00 L154.46 72.23 L154.94 72.46 L155.42 72.69M158.85 74.35 L160.75 75.27 L162.65 76.19 L164.55 77.11M167.98 78.76 L168.46 79.00 L168.94 79.23 L169.42 79.46M172.85 81.12 L174.75 82.04 L176.65 82.96 L178.55 83.87M182.18 85.63 L182.66 85.86 L183.14 86.09 L183.62 86.33M186.85 87.89 L188.85 88.85 L190.85 89.82 L192.85 90.79M196.18 92.40 L196.66 92.63 L197.14 92.86 L197.62 93.09M201.15 94.80 L203.95 96.15 L206.75 97.51 L209.55 98.86M212.58 100.32 L213.06 100.56 L213.54 100.79 L214.02 101.02M217.45 102.68 L219.35 103.60 L221.25 104.52 L223.15 105.43M226.98 107.29 L227.46 107.52 L227.94 107.75 L228.42 107.98M231.85 109.64 L233.75 110.56 L235.65 111.48 L237.55 112.40M240.98 114.05 L241.46 114.29 L241.94 114.52 L242.42 114.75M245.85 116.41 L247.62 117.26 L249.38 118.12 L251.15 118.97M254.85 120.76 L256.75 121.68 L258.65 122.60 L260.55 123.51M263.78 125.07 L264.26 125.31 L264.74 125.54 L265.22 125.77M268.25 127.24 L270.22 128.19 L272.18 129.14 L274.15 130.09M277.28 131.60 L277.76 131.83 L278.24 132.07 L278.72 132.30M281.85 133.81 L283.82 134.76 L285.78 135.71 L287.75 136.66M290.65 138.06 L292.68 139.05 L294.72 140.03 L296.75 141.01M299.98 142.57 L300.46 142.81 L300.94 143.04 L301.42 143.27M304.85 144.93 L306.52 145.73 L308.18 146.54 L309.85 147.35M313.28 149.00 L313.76 149.24 L314.24 149.47 L314.72 149.70" stroke="#000" stroke-width="2.0" fill="none"/>
<path d="M319.40 151.96 L319.48 152.00 L319.55 152.03 L319.62 152.07M319.62 152.07 L321.51 152.98 L323.40 153.90 L325.29 154.81M328.89 156.55 L329.37 156.78 L329.85 157.01 L330.33 157.25M333.72 158.88 L335.61 159.80 L337.50 160.71 L339.39 161.63M342.86 163.30 L344.75 164.22 L346.64 165.13 L348.53 166.04M352.13 167.78 L352.61 168.02 L353.09 168.25 L353.57 168.48" stroke="#000" stroke-width="2.0" fill="none"/>
<path d="M116.10 251.50 L116.49 251.25 L116.89 251.00 L117.28 250.74 L117.68 250.49 L118.07 250.24 L118.46 249.99 L118.86 249.74 L119.25 249.49 L119.65 249.24 L120.04 248.99 L120.43 248.74 L120.83 248.49 L121.22 248.24 L121.62 247.99 L122.01 247.74 L122.40 247.49 L122.80 247.24 L123.19 246.99 L123.59 246.74 L123.98 246.49 L124.37 246.24 L124.77 245.99 L125.16 245.74 L125.56 245.49 L125.95 245.24 L126.34 244.99 L126.74 244.74 L127.13 244.49 L127.53 244.24 L127.92 244.00 L128.31 243.75 L128.71 243.50 L129.10 243.25 L129.50 243.00 L129.89 242.75 L130.28 242.50 L130.68 242.25 L131.07 242.00 L131.47 241.75 L131.86 241.50 L132.25 241.25 L132.65 241.00 L133.04 240.75 L133.44 240.51 L133.83 240.26 L134.22 240.01 L134.62 239.76 L135.01 239.51 L135.41 239.26 L135.80 239.01 L136.19 238.76 L136.59 238.52 L136.98 238.27 L137.38 238.02 L137.77 237.77 L138.16 237.52 L138.56 237.27 L138.95 237.02 L139.35 236.78 L139.74 236.53 L140.13 236.28 L140.53 236.03 L140.92 235.78 L141.32 235.53 L141.71 235.29 L142.10 235.04 L142.50 234.79 L142.89 234.54 L143.29 234.30 L143.68 234.05 L144.07 233.80 L144.47 233.55 L144.86 233.30 L145.26 233.06 L145.65 232.81 L146.04 232.56 L146.44 232.31 L146.83 232.07 L147.23 231.82 L147.62 231.57 L148.01 231.32 L148.41 231.08 L148.80 230.83 L149.20 230.58 L149.59 230.34 L149.98 230.09 L150.38 229.84 L150.77 229.60 L151.17 229.35 L151.56 229.10 L151.95 228.86 L152.35 228.61 L152.74 228.36 L153.14 228.12 L153.53 227.87 L153.92 227.62 L154.32 227.38 L154.71 227.13 L155.11 226.89 L155.50 226.64 L155.89 226.39 L156.29 226.15 L156.68 225.90 L157.08 225.66 L157.47 225.41 L157.86 225.16 L158.26 224.92 L158.65 224.67 L159.05 224.43 L159.44 224.18 L159.83 223.94 L160.23 223.69 L160.62 223.45 L161.02 223.20 L161.41 222.96 L161.80 222.71 L162.20 222.47 L162.59 222.22 L162.99 221.98 L163.38 221.73 L163.77 221.49 L164.17 221.25 L164.56 221.00 L164.96 220.76 L165.35 220.51 L165.74 220.27 L166.14 220.02 L166.53 219.78 L166.93 219.54 L167.32 219.29 L167.71 219.05 L168.11 218.81 L168.50 218.56 L168.90 218.32 L169.29 218.08 L169.68 217.83 L170.08 217.59 L170.47 217.35 L170.87 217.10 L171.26 216.86 L171.65 216.62 L172.05 216.38 L172.44 216.13 L172.84 215.89 L173.23 215.65 L173.62 215.41 L174.02 215.16 L174.41 214.92 L174.81 214.68 L175.20 214.44 L175.59 214.20 L175.99 213.95 L176.38 213.71 L176.78 213.47 L177.17 213.23 L177.56 212.99 L177.96 212.75 L178.35 212.51 L178.75 212.27 L179.14 212.03 L179.53 211.78 L179.93 211.54 L180.32 211.30 L180.72 211.06 L181.11 210.82 L181.50 210.58 L181.90 210.34 L182.29 210.10 L182.69 209.86 L183.08 209.62 L183.47 209.39 L183.87 209.15 L184.26 208.91 L184.66 208.67 L185.05 208.43 L185.44 208.19 L185.84 207.95 L186.23 207.71 L186.63 207.47 L187.02 207.24 L187.41 207.00 L187.81 206.76 L188.20 206.52 L188.60 206.28 L188.99 206.05 L189.38 205.81 L189.78 205.57 L190.17 205.34 L190.57 205.10 L190.96 204.86 L191.35 204.63 L191.75 204.39 L192.14 204.15 L192.54 203.92 L192.93 203.68 L193.32 203.44 L193.72 203.21 L194.11 202.97 L194.51 202.74 L194.90 202.50 L195.29 202.27 L195.69 202.03 L196.08 201.80 L196.47 201.56 L196.87 201.33 L197.26 201.09 L197.66 200.86 L198.05 200.63 L198.44 200.39 L198.84 200.16 L199.23 199.93 L199.63 199.69 L200.02 199.46 L200.41 199.23 L200.81 199.00 L201.20 198.76 L201.60 198.53 L201.99 198.30 L202.38 198.07 L202.78 197.84 L203.17 197.60 L203.57 197.37 L203.96 197.14 L204.35 196.91 L204.75 196.68 L205.14 196.45 L205.54 196.22 L205.93 195.99 L206.32 195.76 L206.72 195.53 L207.11 195.30 L207.51 195.07 L207.90 194.84 L208.29 194.62 L208.69 194.39 L209.08 194.16 L209.48 193.93 L209.87 193.70 L210.26 193.48 L210.66 193.25 L211.05 193.02 L211.45 192.79 L211.84 192.57 L212.23 192.34 L212.63 192.12 L213.02 191.89 L213.42 191.67 L213.81 191.44 L214.20 191.22 L214.60 190.99 L214.99 190.77 L215.39 190.54 L215.78 190.32 L216.17 190.09 L216.57 189.87 L216.96 189.65 L217.36 189.43 L217.75 189.20 L218.14 188.98 L218.54 188.76 L218.93 188.54 L219.33 188.32 L219.72 188.10 L220.11 187.88 L220.51 187.66 L220.90 187.44 L221.30 187.22 L221.69 187.00 L222.08 186.78 L222.48 186.56 L222.87 186.34 L223.27 186.12 L223.66 185.90 L224.05 185.69 L224.45 185.47 L224.84 185.25 L225.24 185.04 L225.63 184.82 L226.02 184.61 L226.42 184.39 L226.81 184.18 L227.21 183.96 L227.60 183.75 L227.99 183.53 L228.39 183.32 L228.78 183.11 L229.18 182.89 L229.57 182.68 L229.96 182.47 L230.36 182.26 L230.75 182.05 L231.15 181.84 L231.54 181.63 L231.93 181.42 L232.33 181.21 L232.72 181.00 L233.12 180.79 L233.51 180.58 L233.90 180.38 L234.30 180.17 L234.69 179.96 L235.09 179.76 L235.48 179.55 L235.87 179.35 L236.27 179.14 L236.66 178.94 L237.06 178.73 L237.45 178.53 L237.84 178.33 L238.24 178.13 L238.63 177.92 L239.03 177.72 L239.42 177.52 L239.81 177.32 L240.21 177.12 L240.60 176.92 L241.00 176.73 L241.39 176.53 L241.78 176.33 L242.18 176.13 L242.57 175.94 L242.97 175.74 L243.36 175.55 L243.75 175.35 L244.15 175.16 L244.54 174.96 L244.94 174.77 L245.33 174.58 L245.72 174.39 L246.12 174.20 L246.51 174.01 L246.91 173.82 L247.30 173.63 L247.69 173.44 L248.09 173.25 L248.48 173.07 L248.88 172.88 L249.27 172.70 L249.66 172.51 L250.06 172.33 L250.45 172.15 L250.85 171.96 L251.24 171.78 L251.63 171.60 L252.03 171.42 L252.42 171.24 L252.82 171.06 L253.21 170.88 L253.60 170.71 L254.00 170.53 L254.39 170.36 L254.79 170.18 L255.18 170.01 L255.57 169.83 L255.97 169.66 L256.36 169.49 L256.76 169.32 L257.15 169.15 L257.54 168.98 L257.94 168.82 L258.33 168.65 L258.73 168.48 L259.12 168.32 L259.51 168.16 L259.91 167.99 L260.30 167.83 L260.70 167.67 L261.09 167.51 L261.48 167.35 L261.88 167.19 L262.27 167.04 L262.67 166.88 L263.06 166.73 L263.45 166.57 L263.85 166.42 L264.24 166.27 L264.64 166.12 L265.03 165.97 L265.42 165.82 L265.82 165.67 L266.21 165.53 L266.61 165.38 L267.00 165.24 L267.39 165.10 L267.79 164.96 L268.18 164.82 L268.58 164.68 L268.97 164.54 L269.36 164.40 L269.76 164.27 L270.15 164.13 L270.55 164.00 L270.94 163.87 L271.33 163.74 L271.73 163.61 L272.12 163.49 L272.52 163.36 L272.91 163.24 L273.30 163.11 L273.70 162.99 L274.09 162.87 L274.49 162.75 L274.88 162.64 L275.27 162.52 L275.67 162.41 L276.06 162.29 L276.46 162.18 L276.85 162.07 L277.24 161.96 L277.64 161.86 L278.03 161.75 L278.43 161.65 L278.82 161.54 L279.21 161.44 L279.61 161.34 L280.00 161.25 L280.40 161.15 L280.79 161.06 L281.18 160.96 L281.58 160.87 L281.97 160.78 L282.37 160.69 L282.76 160.61 L283.15 160.52 L283.55 160.44 L283.94 160.36 L284.34 160.28 L284.73 160.20 L285.12 160.13 L285.52 160.05 L285.91 159.98 L286.31 159.91 L286.70 159.84 L287.09 159.78 L287.49 159.71 L287.88 159.65 L288.28 159.59 L288.67 159.53 L289.06 159.47 L289.46 159.41 L289.85 159.36 L290.25 159.31 L290.64 159.26 L291.03 159.21 L291.43 159.16 L291.82 159.12 L292.22 159.07 L292.61 159.03 L293.00 158.99 L293.40 158.96 L293.79 158.92 L294.19 158.89 L294.58 158.86 L294.97 158.83 L295.37 158.80 L295.76 158.78 L296.16 158.75 L296.55 158.73 L296.94 158.71 L297.34 158.70 L297.73 158.68 L298.13 158.67 L298.52 158.65 L298.91 158.65 L299.31 158.64 L299.70 158.63 L300.10 158.63 L300.49 158.63 L300.88 158.63 L301.28 158.63 L301.67 158.64 L302.07 158.64 L302.46 158.65 L302.85 158.66 L303.25 158.67 L303.64 158.69 L304.04 158.71 L304.43 158.72 L304.82 158.75 L305.22 158.77 L305.61 158.79 L306.01 158.82 L306.40 158.85 L306.79 158.88 L307.19 158.91 L307.58 158.95 L307.98 158.98 L308.37 159.02 L308.76 159.06 L309.16 159.11 L309.55 159.15 L309.95 159.20 L310.34 159.25 L310.73 159.30 L311.13 159.35 L311.52 159.40 L311.92 159.46 L312.31 159.52 L312.70 159.58 L313.10 159.64 L313.49 159.70 L313.89 159.77 L314.28 159.84 L314.67 159.91 L315.07 159.98 L315.46 160.05 L315.86 160.13 L316.25 160.21 L316.64 160.28 L317.04 160.37 L317.43 160.45 L317.83 160.53 L318.22 160.62 L318.61 160.71 L319.01 160.80 L319.40 160.89 L319.80 160.98 L320.19 161.08 L320.58 161.18 L320.98 161.28 L321.37 161.38 L321.77 161.48 L322.16 161.58 L322.55 161.69 L322.95 161.80 L323.34 161.90 L323.74 162.02 L324.13 162.13 L324.52 162.24 L324.92 162.36 L325.31 162.48 L325.71 162.59 L326.10 162.72 L326.49 162.84 L326.89 162.96 L327.28 163.09 L327.68 163.21 L328.07 163.34 L328.46 163.47 L328.86 163.60 L329.25 163.74 L329.65 163.87 L330.04 164.01 L330.43 164.15 L330.83 164.28 L331.22 164.42 L331.62 164.57 L332.01 164.71 L332.40 164.85 L332.80 165.00 L333.19 165.15 L333.59 165.30 L333.98 165.45 L334.37 165.60 L334.77 165.75 L335.16 165.90 L335.56 166.06 L335.95 166.22 L336.34 166.37 L336.74 166.53 L337.13 166.69 L337.53 166.86 L337.92 167.02 L338.31 167.18 L338.71 167.35 L339.10 167.52 L339.50 167.68 L339.89 167.85 L340.28 168.02 L340.68 168.19 L341.07 168.37 L341.47 168.54 L341.86 168.71 L342.25 168.89 L342.65 169.07 L343.04 169.24 L343.44 169.42 L343.83 169.60 L344.22 169.78 L344.62 169.96 L345.01 170.15 L345.41 170.33 L345.80 170.52 L346.19 170.70 L346.59 170.89 L346.98 171.08 L347.38 171.26 L347.77 171.45 L348.16 171.64 L348.56 171.84 L348.95 172.03 L349.35 172.22 L349.74 172.42 L350.13 172.61 L350.53 172.81 L350.92 173.00 L351.32 173.20 L351.71 173.40 L352.10 173.60 L352.50 173.80 L352.89 174.00 L353.28 174.20 L353.68 174.40 L354.07 174.60 L354.47 174.81 L354.86 175.01 L355.25 175.22 L355.65 175.42 L356.04 175.63 L356.44 175.84 L356.83 176.04 L357.22 176.25 L357.62 176.46 L358.01 176.67 L358.41 176.88 L358.80 177.09 L359.19 177.31 L359.59 177.52 L359.98 177.73 L360.38 177.95 L360.77 178.16 L361.16 178.38 L361.56 178.59 L361.95 178.81 L362.35 179.02 L362.74 179.24 L363.13 179.46 L363.53 179.68 L363.92 179.90 L364.32 180.11 L364.71 180.33 L365.10 180.56 L365.50 180.78 L365.89 181.00 L366.29 181.22 L366.68 181.44 L367.07 181.66 L367.47 181.89 L367.86 182.11 L368.26 182.34 L368.65 182.56 L369.04 182.79 L369.44 183.01 L369.83 183.24 L370.23 183.46 L370.62 183.69 L371.01 183.92 L371.41 184.15 L371.80 184.37 L372.20 184.60 L372.59 184.83 L372.98 185.06 L373.38 185.29 L373.77 185.52 L374.17 185.75 L374.56 185.98 L374.95 186.21 L375.35 186.45 L375.74 186.68 L376.14 186.91 L376.53 187.14 L376.92 187.38 L377.32 187.61 L377.71 187.84 L378.11 188.08 L378.50 188.31 L378.89 188.54 L379.29 188.78 L379.68 189.01 L380.08 189.25 L380.47 189.49 L380.86 189.72 L381.26 189.96 L381.65 190.19 L382.05 190.43 L382.44 190.67 L382.83 190.91 L383.23 191.14 L383.62 191.38 L384.02 191.62 L384.41 191.86 L384.80 192.10 L385.20 192.34 L385.59 192.57 L385.99 192.81 L386.38 193.05 L386.77 193.29 L387.17 193.53 L387.56 193.77 L387.96 194.01 L388.35 194.25 L388.74 194.50 L389.14 194.74 L389.53 194.98 L389.93 195.22 L390.32 195.46 L390.71 195.70 L391.11 195.94 L391.50 196.19 L391.90 196.43 L392.29 196.67 L392.68 196.91 L393.08 197.16 L393.47 197.40 L393.87 197.64 L394.26 197.89 L394.65 198.13 L395.05 198.38 L395.44 198.62 L395.84 198.86 L396.23 199.11 L396.62 199.35 L397.02 199.60 L397.41 199.84 L397.81 200.09 L398.20 200.33 L398.59 200.58 L398.99 200.82 L399.38 201.07 L399.78 201.31 L400.17 201.56 L400.56 201.80 L400.96 202.05 L401.35 202.30 L401.75 202.54 L402.14 202.79 L402.53 203.04 L402.93 203.28 L403.32 203.53 L403.72 203.78 L404.11 204.02 L404.50 204.27 L404.90 204.52 L405.29 204.76 L405.69 205.01 L406.08 205.26 L406.47 205.51 L406.87 205.75 L407.26 206.00 L407.66 206.25 L408.05 206.50 L408.44 206.75 L408.84 206.99 L409.23 207.24 L409.63 207.49 L410.02 207.74 L410.41 207.99 L410.81 208.24 L411.20 208.49 L411.60 208.73 L411.99 208.98 L412.38 209.23 L412.78 209.48 L413.17 209.73 L413.57 209.98 L413.96 210.23 L414.35 210.48 L414.75 210.73 L415.14 210.98 L415.54 211.23 L415.93 211.48 L416.32 211.73 L416.72 211.98 L417.11 212.23 L417.51 212.48 L417.90 212.73 L418.29 212.98 L418.69 213.23 L419.08 213.48 L419.48 213.73 L419.87 213.98 L420.26 214.23 L420.66 214.48 L421.05 214.73 L421.45 214.98 L421.84 215.23 L422.23 215.48 L422.63 215.73 L423.02 215.98 L423.42 216.23 L423.81 216.48 L424.20 216.73 L424.60 216.98 L424.99 217.24 L425.39 217.49 L425.78 217.74 L426.17 217.99 L426.57 218.24 L426.96 218.49 L427.36 218.74 L427.75 218.99 L428.14 219.25 L428.54 219.50 L428.93 219.75 L429.33 220.00 L429.72 220.25 L430.11 220.50 L430.51 220.75 L430.90 221.01 L431.30 221.26 L431.69 221.51 L432.08 221.76 L432.48 222.01 L432.87 222.26 L433.27 222.52 L433.66 222.77 L434.05 223.02 L434.45 223.27 L434.84 223.52 L435.24 223.78 L435.63 224.03 L436.02 224.28 L436.42 224.53 L436.81 224.78 L437.21 225.04 L437.60 225.29 L437.99 225.54 L438.39 225.79 L438.78 226.05 L439.18 226.30 L439.57 226.55 L439.96 226.80 L440.36 227.06 L440.75 227.31 L441.15 227.56 L441.54 227.81 L441.93 228.07 L442.33 228.32 L442.72 228.57 L443.12 228.82 L443.51 229.08 L443.90 229.33 L444.30 229.58 L444.69 229.83 L445.09 230.09 L445.48 230.34 L445.87 230.59 L446.27 230.84 L446.66 231.10 L447.06 231.35 L447.45 231.60 L447.84 231.86 L448.24 232.11 L448.63 232.36 L449.03 232.61 L449.42 232.87 L449.81 233.12 L450.21 233.37 L450.60 233.63 L451.00 233.88 L451.39 234.13 L451.78 234.38 L452.18 234.64 L452.57 234.89 L452.97 235.14 L453.36 235.40 L453.75 235.65 L454.15 235.90 L454.54 236.16 L454.94 236.41 L455.33 236.66 L455.72 236.91 L456.12 237.17 L456.51 237.42 L456.91 237.67 L457.30 237.93 L457.69 238.18 L458.09 238.43 L458.48 238.69 L458.88 238.94 L459.27 239.19 L459.66 239.45 L460.06 239.70 L460.45 239.95 L460.85 240.21 L461.24 240.46 L461.63 240.71 L462.03 240.97 L462.42 241.22 L462.82 241.47 L463.21 241.73 L463.60 241.98 L464.00 242.23 L464.39 242.49 L464.79 242.74 L465.18 242.99 L465.57 243.25 L465.97 243.50 L466.36 243.75 L466.76 244.01 L467.15 244.26 L467.54 244.51 L467.94 244.77 L468.33 245.02 L468.73 245.27 L469.12 245.53 L469.51 245.78 L469.91 246.03 L470.30 246.29 L470.70 246.54 L471.09 246.79 L471.48 247.05 L471.88 247.30 L472.27 247.56 L472.67 247.81 L473.06 248.06 L473.45 248.32 L473.85 248.57 L474.24 248.82 L474.64 249.08 L475.03 249.33 L475.42 249.58 L475.82 249.84 L476.21 250.09 L476.61 250.34 L477.00 250.60 L477.39 250.85 L477.79 251.11 L478.18 251.36 L478.58 251.61 L478.97 251.87 L479.36 252.12 L479.76 252.37 L480.15 252.63 L480.55 252.88 L480.94 253.13 L481.33 253.39 L481.73 253.64 L482.12 253.90 L482.52 254.15 L482.91 254.40 L483.30 254.66 L483.70 254.91 L484.09 255.16 L484.49 255.42 L484.88 255.67 L485.27 255.93 L485.67 256.18 L486.06 256.43 L486.46 256.69 L486.85 256.94 L487.24 257.19 L487.64 257.45 L488.03 257.70 L488.43 257.96 L488.82 258.21 L489.21 258.46 L489.61 258.72 L490.00 258.97 L490.40 259.22 L490.79 259.48 L491.18 259.73 L491.58 259.99 L491.97 260.24 L492.37 260.49 L492.76 260.75 L493.15 261.00 L493.55 261.25 L493.94 261.51 L494.34 261.76 L494.73 262.02 L495.12 262.27 L495.52 262.52 L495.91 262.78 L496.31 263.03 L496.70 263.28 L497.09 263.54 L497.49 263.79 L497.88 264.05 L498.28 264.30 L498.67 264.55 L499.06 264.81 L499.46 265.06 L499.85 265.31 L500.25 265.57 L500.64 265.82 L501.03 266.08 L501.43 266.33 L501.82 266.58 L502.22 266.84 L502.61 267.09 L503.00 267.35 L503.40 267.60 L503.79 267.85 L504.19 268.11 L504.58 268.36 L504.97 268.61 L505.37 268.87 L505.76 269.12 L506.16 269.38 L506.55 269.63 L506.94 269.88 L507.34 270.14 L507.73 270.39 L508.13 270.65 L508.52 270.90 L508.91 271.15 L509.31 271.41 L509.70 271.66 L510.09 271.91 L510.49 272.17 L510.88 272.42 L511.28 272.68 L511.67 272.93 L512.06 273.18 L512.46 273.44 L512.85 273.69 L513.25 273.95 L513.64 274.20 L514.03 274.45 L514.43 274.71 L514.82 274.96 L515.22 275.21 L515.61 275.47 L516.00 275.72 L516.40 275.98 L516.79 276.23 L517.19 276.48 L517.58 276.74 L517.97 276.99 L518.37 277.25 L518.76 277.50 L519.16 277.75 L519.55 278.01 L519.94 278.26 L520.34 278.52 L520.73 278.77 L521.13 279.02 L521.52 279.28 L521.91 279.53 L522.31 279.78 L522.70 280.04 L523.10 280.29 L523.49 280.55 L523.88 280.80 L524.28 281.05 L524.67 281.31 L525.07 281.56 L525.46 281.82 L525.85 282.07 L526.25 282.32 L526.64 282.58 L527.04 282.83 L527.43 283.09 L527.82 283.34 L528.22 283.59 L528.61 283.85 L529.01 284.10 L529.40 284.35 L529.79 284.61 L530.19 284.86 L530.58 285.12 L530.98 285.37 L531.37 285.62 L531.76 285.88 L532.16 286.13 L532.55 286.39 L532.95 286.64 L533.34 286.89 L533.73 287.15 L534.13 287.40 L534.52 287.66 L534.92 287.91 L535.31 288.16 L535.70 288.42 L536.10 288.67 L536.49 288.93 L536.89 289.18 L537.28 289.43 L537.67 289.69 L538.07 289.94 L538.46 290.19 L538.86 290.45 L539.25 290.70 L539.64 290.96 L540.04 291.21 L540.43 291.46 L540.83 291.72 L541.22 291.97 L541.61 292.23 L542.01 292.48 L542.40 292.73 L542.80 292.99 L543.19 293.24 L543.58 293.50 L543.98 293.75 L544.37 294.00 L544.77 294.26 L545.16 294.51 L545.55 294.77 L545.95 295.02 L546.34 295.27 L546.74 295.53 L547.13 295.78 L547.52 296.04 L547.92 296.29 L548.31 296.54 L548.71 296.80 L549.10 297.05 L549.49 297.30 L549.89 297.56 L550.28 297.81 L550.68 298.07 L551.07 298.32 L551.46 298.57 L551.86 298.83 L552.25 299.08 L552.65 299.34 L553.04 299.59 L553.43 299.84 L553.83 300.10 L554.22 300.35 L554.62 300.61 L555.01 300.86 L555.40 301.11 L555.80 301.37 L556.19 301.62 L556.59 301.88 L556.98 302.13 L557.37 302.38 L557.77 302.64 L558.16 302.89 L558.56 303.15 L558.95 303.40 L559.34 303.65 L559.74 303.91 L560.13 304.16 L560.53 304.41 L560.92 304.67 L561.31 304.92 L561.71 305.18 L562.10 305.43 L562.50 305.68 L562.89 305.94 L563.28 306.19 L563.68 306.45 L564.07 306.70 L564.47 306.95 L564.86 307.21 L565.25 307.46 L565.65 307.72 L566.04 307.97 L566.44 308.22 L566.83 308.48 L567.22 308.73 L567.62 308.99 L568.01 309.24 L568.41 309.49 L568.80 309.75 L569.19 310.00 L569.59 310.26 L569.98 310.51 L570.38 310.76 L570.77 311.02 L571.16 311.27 L571.56 311.53 L571.95 311.78 L572.35 312.03 L572.74 312.29 L573.13 312.54 L573.53 312.79 L573.92 313.05 L574.32 313.30 L574.71 313.56 L575.10 313.81 L575.50 314.06 L575.89 314.32 L576.29 314.57 L576.68 314.83 L577.07 315.08 L577.47 315.33 L577.86 315.59 L578.26 315.84 L578.65 316.10 L579.04 316.35 L579.44 316.60 L579.83 316.86 L580.23 317.11 L580.62 317.37 L581.01 317.62 L581.41 317.87 L581.80 318.13 L582.20 318.38 L582.59 318.64 L582.98 318.89 L583.38 319.14 L583.77 319.40 L584.17 319.65 L584.56 319.91 L584.95 320.16 L585.35 320.41 L585.74 320.67 L586.14 320.92 L586.53 321.17 L586.92 321.43 L587.32 321.68 L587.71 321.94 L588.11 322.19 L588.50 322.44" stroke="#000" stroke-width="2.0" fill="none"/>
<path d="M271.10 342.00 L271.10 341.34 L271.11 339.73 L271.11 338.13 L271.11 336.52 L271.11 334.92 L271.11 333.31 L271.12 331.71 L271.12 330.10 L271.12 328.50 L271.12 326.89 L271.13 325.29 L271.13 323.68 L271.13 322.08 L271.14 320.47 L271.14 318.87 L271.14 317.27 L271.15 315.66 L271.15 314.06 L271.16 312.46 L271.16 310.85 L271.17 309.25 L271.17 307.65 L271.18 306.05 L271.18 304.45 L271.19 302.84 L271.19 301.24 L271.20 299.64 L271.21 298.04 L271.21 296.44 L271.22 294.84 L271.23 293.24 L271.24 291.65 L271.25 290.05 L271.26 288.45 L271.27 286.85 L271.28 285.26 L271.29 283.66 L271.30 282.07 L271.31 280.47 L271.32 278.88 L271.34 277.28 L271.35 275.69 L271.37 274.10 L271.38 272.51 L271.40 270.92 L271.41 269.33 L271.43 267.74 L271.45 266.16 L271.47 264.57 L271.49 262.99 L271.52 261.40 L271.54 259.82 L271.56 258.24 L271.59 256.66 L271.62 255.08 L271.65 253.51 L271.68 251.93 L271.71 250.36 L271.74 248.79 L271.78 247.22 L271.82 245.66 L271.86 244.09 L271.90 242.53 L271.94 240.97 L271.99 239.41 L272.04 237.86 L272.09 236.31 L272.14 234.76 L272.20 233.21 L272.26 231.67 L272.32 230.13 L272.39 228.59 L272.46 227.06 L272.53 225.53 L272.61 224.01 L272.69 222.49 L272.78 220.98 L272.87 219.47 L272.96 217.96 L273.06 216.46 L273.17 214.97 L273.28 213.48 L273.40 212.00 L273.52 210.53 L273.65 209.06 L273.79 207.60 L273.93 206.14 L274.08 204.70 L274.24 203.26 L274.40 201.84 L274.58 200.42 L274.76 199.01 L274.96 197.61 L275.16 196.22 L275.38 194.85 L275.60 193.48 L275.84 192.13 L276.09 190.79 L276.35 189.46 L276.63 188.15 L276.91 186.86 L277.22 185.57 L277.54 184.31 L277.87 183.06 L278.23 181.83 L278.60 180.62 L278.99 179.43 L279.39 178.26 L279.82 177.11 L280.27 175.98 L280.75 174.88 L281.24 173.80 L281.76 172.74 L282.31 171.71 L282.88 170.71 L283.48 169.74 L284.11 168.80 L284.77 167.89 L285.46 167.01 L286.18 166.16 L286.94 165.35 L287.73 164.58 L288.56 163.84 L289.43 163.14 L290.34 162.48 L291.29 161.86 L292.28 161.29 L293.32 160.75 L294.41 160.27 L295.54 159.83 L296.72 159.44 L297.95 159.09 L299.24 158.80 L300.58 158.56 L301.98 158.38 L303.43 158.25 L304.95 158.17 L306.53 158.15 L308.17 158.19 L309.87 158.29 L311.64 158.45 L313.48 158.67 L315.39 158.95 L317.38 159.29 L319.43 159.70 L321.56 160.17 L323.77 160.70 L326.05 161.30 L328.41 161.97 L330.85 162.69 L333.37 163.49 L335.98 164.35 L338.66 165.27 L341.43 166.26 L344.28 167.31 L347.22 168.42 L350.25 169.60 L353.36 170.84" stroke="#000" stroke-width="2.0" fill="none" stroke-dasharray="7.1 6.74" stroke-dashoffset="10.34"/>
<path d="M357.20 172.41 L358.26 172.85 L359.32 173.29 L360.38 173.74 L361.44 174.18 L362.50 174.63M357.20 170.24 L358.26 170.75 L359.32 171.26 L360.38 171.77 L361.44 172.28 L362.50 172.80M365.50 175.91 L367.16 176.63 L368.82 177.35 L370.48 178.07 L372.14 178.80 L373.80 179.54M365.50 174.25 L367.16 175.05 L368.82 175.85 L370.48 176.65 L372.14 177.46 L373.80 178.26M376.40 180.69 L378.28 181.53 L380.16 182.38 L382.04 183.23 L383.92 184.08 L385.80 184.93M376.40 179.52 L378.28 180.43 L380.16 181.33 L382.04 182.24 L383.92 183.15 L385.80 184.06M388.00 185.94 L389.66 186.70 L391.32 187.46 L392.98 188.23 L394.64 188.99 L396.30 189.76M388.00 185.12 L389.66 185.93 L391.32 186.73 L392.98 187.53 L394.64 188.33 L396.30 189.14M398.40 190.74 L400.32 191.63 L402.24 192.53 L404.16 193.42 L406.08 194.32 L408.00 195.22M398.40 190.15 L400.32 191.08 L402.24 192.01 L404.16 192.94 L406.08 193.86 L408.00 194.79M409.20 195.79 L410.80 196.54 L412.40 197.30 L414.00 198.05 L415.60 198.81 L417.20 199.56M409.20 195.37 L410.80 196.15 L412.40 196.92 L414.00 197.69 L415.60 198.47 L417.20 199.24M419.60 200.70 L421.44 201.57 L423.28 202.45 L425.12 203.32 L426.96 204.20 L428.80 205.07M419.60 200.40 L421.44 201.29 L423.28 202.18 L425.12 203.07 L426.96 203.96 L428.80 204.85M430.40 205.83 L431.92 206.56 L433.44 207.28 L434.96 208.01 L436.48 208.74 L438.00 209.46M430.40 205.62 L431.92 206.36 L433.44 207.09 L434.96 207.82 L436.48 208.56 L438.00 209.29M440.70 210.75 L442.42 211.58 L444.14 212.40 L445.86 213.23 L447.58 214.05 L449.30 214.88M440.70 210.60 L442.42 211.43 L444.14 212.26 L445.86 213.09 L447.58 213.93 L449.30 214.76M450.70 215.55 L452.22 216.28 L453.74 217.01 L455.26 217.74 L456.78 218.47 L458.30 219.20M450.70 215.43 L452.22 216.17 L453.74 216.90 L455.26 217.64 L456.78 218.37 L458.30 219.11M460.70 220.35 L462.50 221.22 L464.30 222.08 L466.10 222.95 L467.90 223.81 L469.70 224.68M460.70 220.27 L462.50 221.14 L464.30 222.01 L466.10 222.88 L467.90 223.75 L469.70 224.62M470.70 225.16 L472.26 225.91 L473.82 226.66 L475.38 227.42 L476.94 228.17 L478.50 228.92M470.70 225.10 L472.26 225.86 L473.82 226.61 L475.38 227.36 L476.94 228.12 L478.50 228.87M480.50 229.88 L482.25 230.73 L484.00 231.57 L485.75 232.41 L487.50 233.26 L489.25 234.10M480.50 229.84 L482.25 230.68 L484.00 231.53 L485.75 232.38 L487.50 233.22 L489.25 234.07M490.90 234.90 L492.32 235.58 L493.74 236.27 L495.16 236.95 L496.58 237.64 L498.00 238.32M490.90 234.87 L492.32 235.55 L493.74 236.24 L495.16 236.93 L496.58 237.61 L498.00 238.30M499.80 239.19 L501.60 240.06 L503.40 240.93 L505.20 241.80 L507.00 242.67 L508.80 243.54M499.80 239.17 L501.60 240.04 L503.40 240.91 L505.20 241.78 L507.00 242.65 L508.80 243.52M510.00 244.12 L511.35 244.77 L512.70 245.42 L514.05 246.07 L515.40 246.72 L516.75 247.38M510.00 244.10 L511.35 244.75 L512.70 245.40 L514.05 246.06 L515.40 246.71 L516.75 247.36M518.90 248.42 L520.70 249.28 L522.50 250.15 L524.30 251.02 L526.10 251.89 L527.90 252.76M518.90 248.40 L520.70 249.27 L522.50 250.14 L524.30 251.01 L526.10 251.88 L527.90 252.75M529.10 253.34 L530.42 253.98 L531.74 254.62 L533.06 255.26 L534.38 255.89 L535.70 256.53M529.10 253.33 L530.42 253.97 L531.74 254.61 L533.06 255.25 L534.38 255.88 L535.70 256.52M537.80 257.55 L539.66 258.44 L541.52 259.34 L543.38 260.24 L545.24 261.14 L547.10 262.04M537.80 257.54 L539.66 258.44 L541.52 259.34 L543.38 260.24 L545.24 261.13 L547.10 262.03M548.40 262.67 L549.68 263.29 L550.96 263.90 L552.24 264.52 L553.52 265.14 L554.80 265.76M548.40 262.66 L549.68 263.28 L550.96 263.90 L552.24 264.52 L553.52 265.14 L554.80 265.76M556.90 266.78 L558.72 267.65 L560.54 268.53 L562.36 269.41 L564.18 270.29 L566.00 271.17M556.90 266.77 L558.72 267.65 L560.54 268.53 L562.36 269.41 L564.18 270.29 L566.00 271.17M567.00 271.66 L568.30 272.28 L569.60 272.91 L570.90 273.54 L572.20 274.17 L573.50 274.80M567.00 271.65 L568.30 272.28 L569.60 272.91 L570.90 273.54 L572.20 274.17 L573.50 274.80M575.00 275.52 L577.68 276.82 L580.36 278.11 L583.04 279.41 L585.72 280.70 L588.40 282.00M575.00 275.52 L577.68 276.82 L580.36 278.11 L583.04 279.41 L585.72 280.70 L588.40 282.00" stroke="#000" stroke-width="2.0" fill="none"/>
<path d="M382.5 35.8L405.6 35.8" stroke="#000" stroke-width="2.0"/>
<path d="M382.5 51.7L405.6 51.7" stroke="#000" stroke-width="2.0" stroke-dasharray="1.4 3.6"/>
<path d="M382.5 67.2L405.6 67.2" stroke="#000" stroke-width="2.0" stroke-dasharray="6 9"/>
<path d="M382.5 82.4L405.6 82.4" stroke="#000" stroke-width="2.0" stroke-dasharray="6.5 3.8 1.3 3.8"/>
</svg>
</body></html>
